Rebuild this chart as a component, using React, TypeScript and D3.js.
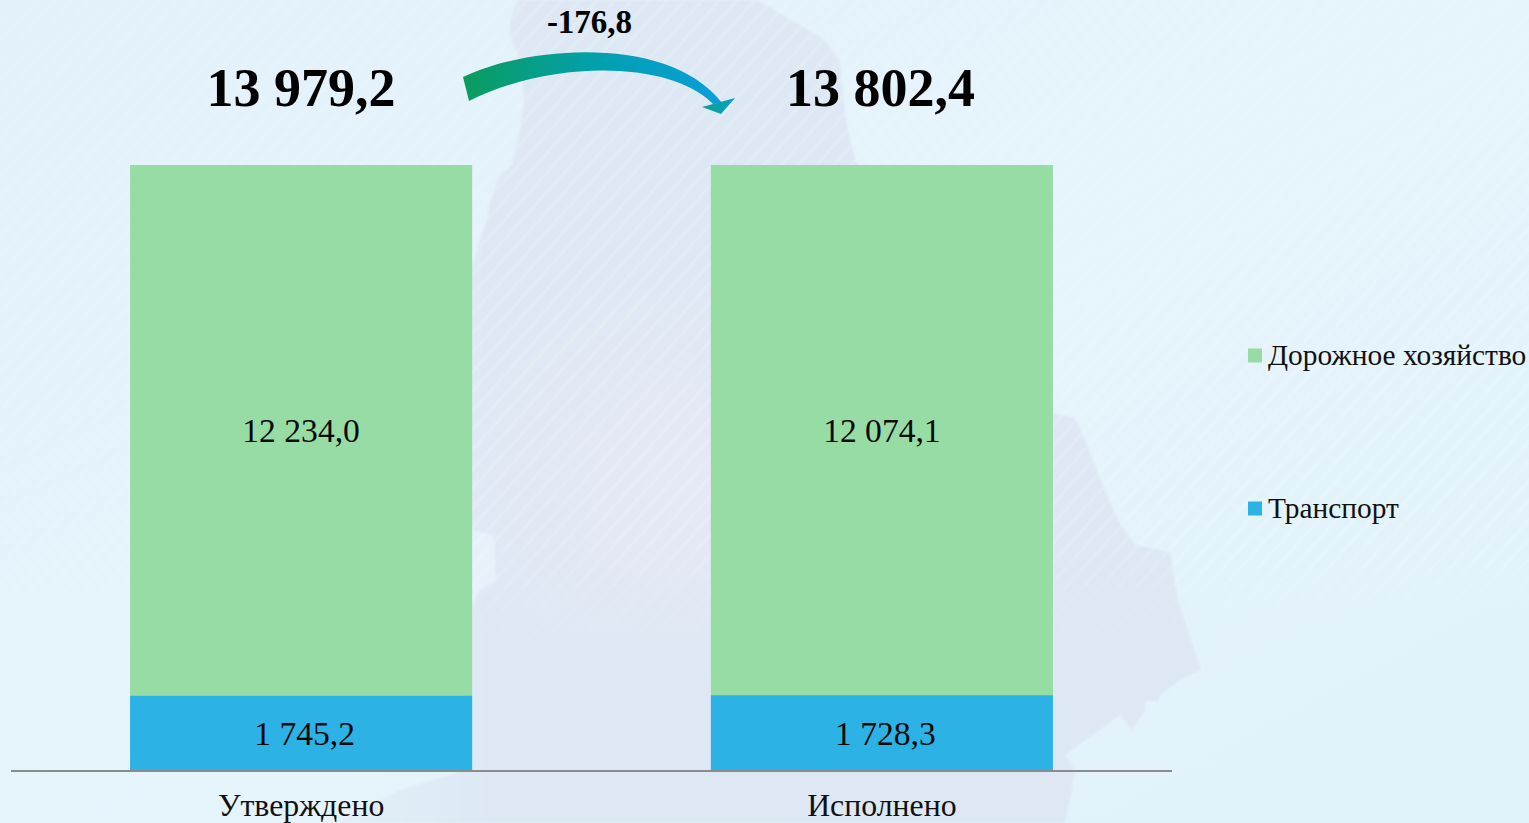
import React, { useEffect, useRef } from "react";
import * as d3 from "d3";

const categories = ["Утверждено", "Исполнено"];
const seriesKeys = ["Транспорт", "Дорожное хозяйство"];
const transportValues = [1745.2, 1728.3];
const roadValues = [12234.0, 12074.1];
const totals = ["13 979,2", "13 802,4"];
const deltaLabel = "-176,8";
const transportLabels = ["1 745,2", "1 728,3"];
const roadLabels = ["12 234,0", "12 074,1"];
const colors: Record<string, string> = { "Транспорт": "#2cb2e5", "Дорожное хозяйство": "#97dca4" };
const legendOrder = ["Дорожное хозяйство", "Транспорт"];

const mapOutline: [number, number][] = [
  [518, 0], [510, 18], [510, 35], [518, 55], [522, 80], [524, 100], [520, 130], [512, 165], [500, 175], [489, 205],
  [488, 215], [478, 245], [472, 265], [440, 420], [472, 530], [494, 535], [496, 580], [480, 590], [472, 605],
  [460, 720], [472, 768], [400, 790], [335, 823], [1065, 823], [1072, 790], [1075, 770], [1065, 755], [1120, 715],
  [1132, 730], [1146, 710], [1145, 700], [1158, 702], [1160, 695], [1180, 680], [1201, 670], [1178, 600], [1170, 552],
  [1135, 545], [1118, 520], [1105, 490], [1085, 440], [1075, 418], [1053, 413], [950, 300], [855, 160], [845, 115],
  [840, 60], [825, 40], [800, 25], [757, 0],
];
const arrowHead: [number, number][] = [[702, 107], [735, 98], [721, 114]];

const FONT = "'Liberation Serif', serif";

export default function App() {
  const ref = useRef<SVGSVGElement>(null);
  useEffect(() => {
    const svg = d3.select(ref.current!);
    svg.selectAll("*").remove();
    const defs = svg.append("defs");

    const bg = defs.append("linearGradient").attr("id", "bg").attr("x1", 0).attr("y1", 0).attr("x2", 1).attr("y2", 1);
    bg.append("stop").attr("offset", 0).attr("stop-color", "#e2f1fa");
    bg.append("stop").attr("offset", 0.5).attr("stop-color", "#e6f4fc");
    bg.append("stop").attr("offset", 1).attr("stop-color", "#e1f2fa");

    const mapFill = defs.append("linearGradient").attr("id", "mapFill").attr("gradientUnits", "userSpaceOnUse")
      .attr("x1", 340).attr("y1", 0).attr("x2", 490).attr("y2", 0);
    mapFill.append("stop").attr("offset", 0).attr("stop-color", "#e2eff9");
    mapFill.append("stop").attr("offset", 1).attr("stop-color", "#dde8f4");

    const glow = defs.append("radialGradient").attr("id", "glow").attr("cx", 0.5).attr("cy", 0.5).attr("r", 0.5);
    glow.append("stop").attr("offset", 0).attr("stop-color", "#e6e8f5").attr("stop-opacity", 1);
    glow.append("stop").attr("offset", 1).attr("stop-color", "#e6e8f5").attr("stop-opacity", 0);

    const soft = defs.append("filter").attr("id", "soft");
    soft.append("feGaussianBlur").attr("stdDeviation", 1.2);

    const hatch = defs.append("pattern").attr("id", "hatch").attr("width", 13).attr("height", 13)
      .attr("patternUnits", "userSpaceOnUse").attr("patternTransform", "rotate(-48)");
    hatch.append("rect").attr("width", 13).attr("height", 4).attr("fill", "#ffffff").attr("opacity", 0.13);

    const fade = defs.append("linearGradient").attr("id", "fade").attr("x1", 0).attr("y1", 0).attr("x2", 0).attr("y2", 1);
    fade.append("stop").attr("offset", 0).attr("stop-color", "#fff");
    fade.append("stop").attr("offset", 0.66).attr("stop-color", "#fff");
    fade.append("stop").attr("offset", 0.82).attr("stop-color", "#000");
    defs.append("mask").attr("id", "fadeMask").append("rect").attr("width", 1529).attr("height", 823).attr("fill", "url(#fade)");

    const arrowGrad = defs.append("linearGradient").attr("id", "arrowGrad").attr("gradientUnits", "userSpaceOnUse")
      .attr("x1", 463).attr("y1", 80).attr("x2", 725).attr("y2", 80);
    arrowGrad.append("stop").attr("offset", 0).attr("stop-color", "#0a9c5e");
    arrowGrad.append("stop").attr("offset", 0.5).attr("stop-color", "#02a0ac");
    arrowGrad.append("stop").attr("offset", 1).attr("stop-color", "#089fdb");
    const headGrad = defs.append("linearGradient").attr("id", "headGrad").attr("gradientUnits", "userSpaceOnUse")
      .attr("x1", 702).attr("y1", 108).attr("x2", 735).attr("y2", 98);
    headGrad.append("stop").attr("offset", 0).attr("stop-color", "#0aa28f");
    headGrad.append("stop").attr("offset", 1).attr("stop-color", "#08a0c8");

    svg.append("rect").attr("width", 1529).attr("height", 823).attr("fill", "url(#bg)");
    const poly = d3.line().curve(d3.curveLinear);
    svg.append("path").attr("d", poly(mapOutline)! + "Z").attr("fill", "url(#mapFill)").attr("filter", "url(#soft)");
    svg.append("ellipse").attr("cx", 690).attr("cy", 480).attr("rx", 280).attr("ry", 230).attr("fill", "url(#glow)");
    svg.append("rect").attr("width", 1529).attr("height", 823).attr("fill", "url(#hatch)").attr("mask", "url(#fadeMask)");

    const x = d3.scaleBand<string>().domain(categories).range([11, 1172]).paddingInner(0.411).paddingOuter(0.205);
    const y = d3.scaleLinear().domain([0, 1]).range([771, 165]);

    const rows = categories.map((c, i) => ({ category: c, "Транспорт": transportValues[i], "Дорожное хозяйство": roadValues[i] }));
    const stacked = d3.stack<any>().keys(seriesKeys).offset(d3.stackOffsetExpand)(rows);

    const g = svg.append("g");
    stacked.forEach((s) => {
      g.selectAll(null).data(s).enter().append("rect")
        .attr("x", (d: any) => x(d.data.category)!)
        .attr("width", x.bandwidth())
        .attr("y", (d: any) => y(d[1]))
        .attr("height", (d: any) => y(d[0]) - y(d[1]))
        .attr("fill", colors[s.key]);
    });

    const axisG = svg.append("g").attr("transform", "translate(0,771)");
    axisG.call(d3.axisBottom(x).tickSize(0).tickPadding(0) as any);
    axisG.select(".domain").attr("d", "M11,0H1172").attr("stroke", "#8c8c8c").attr("stroke-width", 2);
    axisG.selectAll("text").attr("y", 45).attr("dy", 0).attr("dx", 0)
      .attr("font-family", FONT).attr("font-size", 31.8).attr("fill", "#111");

    const label = (t: string, px: number, py: number, size: number, bold = false) =>
      svg.append("text").attr("x", px).attr("y", py).attr("text-anchor", "middle")
        .attr("font-family", FONT).attr("font-size", size)
        .attr("font-weight", bold ? 700 : 400).attr("fill", bold ? "#000" : "#0a0a0a").text(t);

    categories.forEach((c, i) => {
      const cx = x(c)! + x.bandwidth() / 2;
      label(roadLabels[i], cx, 442, 33.6);
      label(transportLabels[i], cx + 3.5, 745, 33.6);
      label(totals[i], cx - (i ? 1.5 : 0), 106, 54, true);
    });
    label(deltaLabel, 589.5, 33, 33, true);

    const arc = d3.path();
    arc.moveTo(463, 77);
    arc.bezierCurveTo(530, 45, 670, 35, 722, 103);
    arc.lineTo(713, 104);
    arc.bezierCurveTo(670, 60, 550, 60, 469, 101);
    arc.closePath();
    svg.append("path").attr("d", arc.toString()).attr("fill", "url(#arrowGrad)");
    svg.append("path").attr("d", poly(arrowHead)! + "Z").attr("fill", "url(#headGrad)");

    const legendY = d3.scalePoint<string>().domain(legendOrder).range([355.5, 508.5]);
    legendOrder.forEach((k) => {
      const cy = legendY(k)!;
      svg.append("rect").attr("x", 1248).attr("y", cy - 7).attr("width", 14).attr("height", 14).attr("fill", colors[k]);
      svg.append("text").attr("x", 1268).attr("y", cy + 9.5).attr("font-family", FONT).attr("font-size", 29.4)
        .attr("fill", "#111").text(k);
    });
  }, []);
  return (
    <svg ref={ref} width={1529} height={823}
      style={{ position: "fixed", left: 0, top: 0, display: "block" }} />
  );
}
